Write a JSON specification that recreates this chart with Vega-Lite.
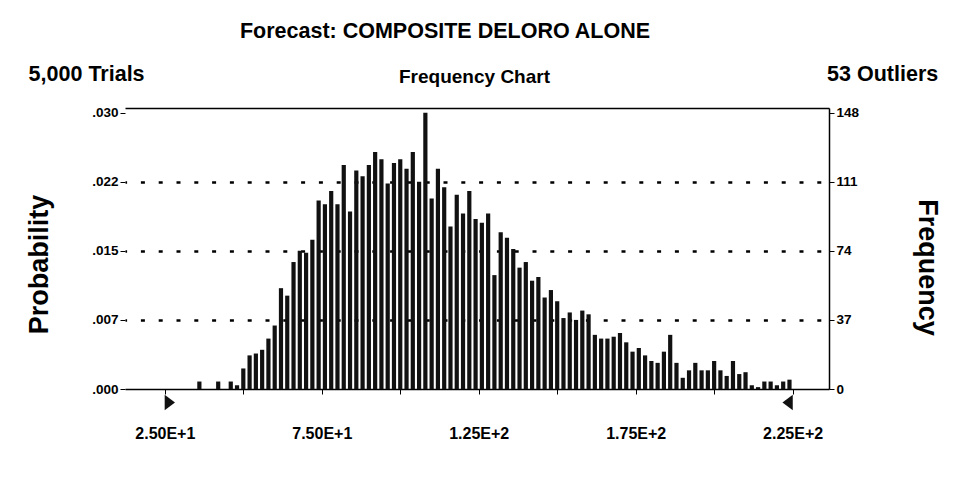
{
  "$schema": "https://vega.github.io/schema/vega-lite/v6.json",
  "width": 704,
  "height": 281,
  "autosize": {"type": "none"},
  "padding": {"left": 125, "top": 108, "right": 124, "bottom": 88},
  "background": "white",
  "config": {
    "view": {"stroke": null},
    "font": "Liberation Sans",
    "axis": {"labelFont": "Liberation Sans", "titleFont": "Liberation Sans", "labelColor": "black", "titleColor": "black", "labelFontWeight": "bold", "titleFontWeight": "bold", "tickColor": "black", "domainColor": "black"}
  },
  "title": {"text": "Forecast: COMPOSITE DELORO ALONE", "font": "Liberation Sans", "fontSize": 21.5, "fontWeight": "bold", "color": "black", "anchor": "middle", "dx": -32, "offset": 21},
  "datasets": {
    "hist": [
      {"value": 36, "frequency": 4}, {"value": 42, "frequency": 4}, {"value": 46, "frequency": 4}, {"value": 48, "frequency": 2},
      {"value": 50, "frequency": 11}, {"value": 52, "frequency": 18}, {"value": 54, "frequency": 19}, {"value": 56, "frequency": 21},
      {"value": 58, "frequency": 27}, {"value": 60, "frequency": 34}, {"value": 62, "frequency": 54}, {"value": 64, "frequency": 50},
      {"value": 66, "frequency": 68}, {"value": 68, "frequency": 74}, {"value": 70, "frequency": 73}, {"value": 72, "frequency": 80},
      {"value": 74, "frequency": 101}, {"value": 76, "frequency": 99}, {"value": 78, "frequency": 106}, {"value": 80, "frequency": 99},
      {"value": 82, "frequency": 120}, {"value": 84, "frequency": 95}, {"value": 86, "frequency": 117}, {"value": 88, "frequency": 114},
      {"value": 90, "frequency": 120}, {"value": 92, "frequency": 127}, {"value": 94, "frequency": 123}, {"value": 96, "frequency": 110},
      {"value": 98, "frequency": 121}, {"value": 100, "frequency": 123}, {"value": 102, "frequency": 118}, {"value": 104, "frequency": 127},
      {"value": 106, "frequency": 111}, {"value": 108, "frequency": 148}, {"value": 110, "frequency": 102}, {"value": 112, "frequency": 118},
      {"value": 114, "frequency": 108}, {"value": 116, "frequency": 87}, {"value": 118, "frequency": 104}, {"value": 120, "frequency": 94},
      {"value": 122, "frequency": 106}, {"value": 124, "frequency": 91}, {"value": 126, "frequency": 89}, {"value": 128, "frequency": 94},
      {"value": 130, "frequency": 61}, {"value": 132, "frequency": 84}, {"value": 134, "frequency": 81}, {"value": 136, "frequency": 75},
      {"value": 138, "frequency": 65}, {"value": 140, "frequency": 68}, {"value": 142, "frequency": 58}, {"value": 144, "frequency": 60},
      {"value": 146, "frequency": 49}, {"value": 148, "frequency": 53}, {"value": 150, "frequency": 47}, {"value": 152, "frequency": 38},
      {"value": 154, "frequency": 41}, {"value": 156, "frequency": 37}, {"value": 158, "frequency": 42}, {"value": 160, "frequency": 40},
      {"value": 162, "frequency": 29}, {"value": 164, "frequency": 27}, {"value": 166, "frequency": 27}, {"value": 168, "frequency": 28},
      {"value": 170, "frequency": 30}, {"value": 172, "frequency": 25}, {"value": 174, "frequency": 20}, {"value": 176, "frequency": 22},
      {"value": 178, "frequency": 18}, {"value": 180, "frequency": 15}, {"value": 182, "frequency": 14}, {"value": 184, "frequency": 20},
      {"value": 186, "frequency": 29}, {"value": 188, "frequency": 14}, {"value": 190, "frequency": 6}, {"value": 192, "frequency": 10},
      {"value": 194, "frequency": 14}, {"value": 196, "frequency": 10}, {"value": 198, "frequency": 10}, {"value": 200, "frequency": 15},
      {"value": 202, "frequency": 10}, {"value": 204, "frequency": 7}, {"value": 206, "frequency": 15}, {"value": 208, "frequency": 8},
      {"value": 210, "frequency": 9}, {"value": 212, "frequency": 2}, {"value": 214, "frequency": 1}, {"value": 216, "frequency": 4},
      {"value": 218, "frequency": 4}, {"value": 220, "frequency": 2}, {"value": 222, "frequency": 4}, {"value": 224, "frequency": 5}
    ]
  },
  "resolve": {"axis": {"x": "independent", "y": "independent"}},
  "layer": [
    {
      "data": {"name": "hist"},
      "mark": {"type": "bar", "width": 4.2, "color": "#111111"},
      "encoding": {
        "x": {"field": "value", "type": "quantitative", "scale": {"domain": [13.9, 235], "nice": false, "zero": false},
          "axis": {"orient": "bottom", "values": [25, 50, 75, 100, 125, 150, 175, 200, 225], "labelExpr": "datum.value % 50 == 25 ? upper(format(datum.value, '.2e')) : ''", "title": null, "grid": false, "domainWidth": 1.5, "tickSize": 5, "labelPadding": 31, "labelFontSize": 16, "labelFlush": false, "labelOverlap": false}},
        "y": {"field": "frequency", "type": "quantitative", "scale": {"domain": [0, 150.5], "nice": false},
          "axis": {"orient": "left", "values": [0, 37, 74, 111, 148], "labelExpr": "slice(format(datum.value / 5000, '.3f'), 1)", "title": "Probability", "titleFontSize": 27, "titlePadding": 38, "titleY": 156, "domain": false, "grid": false, "tickSize": 5, "labelPadding": 2, "labelFontSize": 13.5}}
      }
    },
    {
      "data": {"name": "hist"},
      "mark": {"type": "point", "opacity": 0},
      "encoding": {
        "x": {"field": "value", "type": "quantitative", "scale": {"domain": [13.9, 235], "nice": false, "zero": false},
          "axis": {"orient": "top", "labels": false, "ticks": false, "grid": false, "domainWidth": 1.5, "title": "Frequency Chart", "titleFontSize": 19, "titlePadding": 22, "titleX": 349}},
        "y": {"field": "frequency", "type": "quantitative", "scale": {"domain": [0, 150.5], "nice": false},
          "axis": {"orient": "right", "values": [0, 37, 74, 111, 148], "title": "Frequency", "titleFontSize": 27, "titlePadding": 54, "titleY": 159, "domainWidth": 1.5, "tickSize": 5, "labelPadding": 2, "labelFontSize": 13.5,
            "grid": true, "gridColor": "black", "gridWidth": 2.5, "gridDash": [4, 13.8], "gridDashOffset": 9.6,
            "gridOpacity": {"condition": {"test": "datum.value == 0 || datum.value == 148", "value": 0}, "value": 1}}}
      }
    },
    {
      "data": {"values": [{"value": 25}]},
      "mark": {"type": "point", "shape": "M-0.667,-1L0.667,0L-0.667,1Z", "size": 240, "filled": true, "color": "#111111", "opacity": 1, "xOffset": 5, "yOffset": 13.5, "clip": false},
      "encoding": {
        "x": {"field": "value", "type": "quantitative", "scale": {"domain": [13.9, 235], "nice": false, "zero": false}, "axis": null},
        "y": {"datum": 0, "type": "quantitative", "scale": {"domain": [0, 150.5], "nice": false}, "axis": null}
      }
    },
    {
      "data": {"values": [{"value": 225}]},
      "mark": {"type": "point", "shape": "M0.667,-1L-0.667,0L0.667,1Z", "size": 240, "filled": true, "color": "#111111", "opacity": 1, "xOffset": -5, "yOffset": 13.5, "clip": false},
      "encoding": {
        "x": {"field": "value", "type": "quantitative", "scale": {"domain": [13.9, 235], "nice": false, "zero": false}, "axis": null},
        "y": {"datum": 0, "type": "quantitative", "scale": {"domain": [0, 150.5], "nice": false}, "axis": null}
      }
    },
    {
      "data": {"values": [{"label": "5,000 Trials"}]},
      "mark": {"type": "text", "align": "left", "baseline": "middle", "font": "Liberation Sans", "fontSize": 21.5, "fontWeight": "bold", "color": "black", "clip": false},
      "encoding": {
        "text": {"field": "label"},
        "x": {"datum": -18.4, "type": "quantitative", "scale": {"domain": [13.9, 235], "nice": false, "zero": false}, "axis": null},
        "y": {"datum": 168.2, "type": "quantitative", "scale": {"domain": [0, 150.5], "nice": false}, "axis": null}
      }
    },
    {
      "data": {"values": [{"label": "53 Outliers"}]},
      "mark": {"type": "text", "align": "right", "baseline": "middle", "font": "Liberation Sans", "fontSize": 21.5, "fontWeight": "bold", "color": "black", "clip": false},
      "encoding": {
        "text": {"field": "label"},
        "x": {"datum": 271.4, "type": "quantitative", "scale": {"domain": [13.9, 235], "nice": false, "zero": false}, "axis": null},
        "y": {"datum": 168.2, "type": "quantitative", "scale": {"domain": [0, 150.5], "nice": false}, "axis": null}
      }
    }
  ]
}
